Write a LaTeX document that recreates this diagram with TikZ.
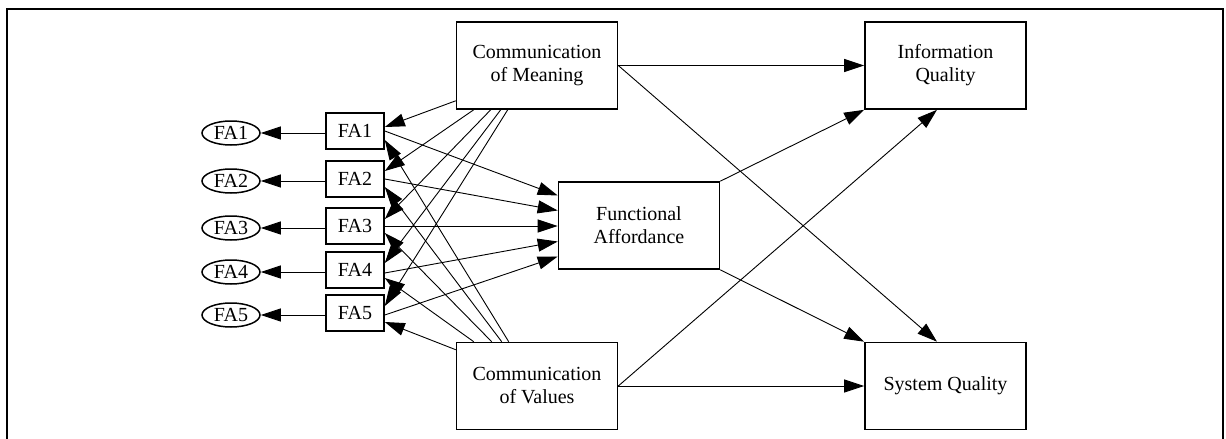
\documentclass[tikz,border=0pt]{standalone}
\usepackage{fontspec}
\setmainfont{Liberation Serif}
\usetikzlibrary{arrows.meta,shapes.geometric,calc}

\begin{document}
\begin{tikzpicture}[x=1pt,y=-1pt,
  lbl/.style={font=\fontsize{20}{23}\selectfont,align=center,inner sep=0pt},
  construct/.style={lbl,draw,line width=1.6pt,minimum width=161pt,minimum height=87pt},
  item/.style={lbl,draw,line width=1.6pt,minimum width=58pt,minimum height=36pt},
  latent/.style={lbl,draw,ellipse,line width=1.5pt,minimum width=58pt,minimum height=24pt},
  link/.style={draw,line width=0.9pt,-{Triangle[length=20pt,width=13pt]}}]

\useasboundingbox (0,0) rectangle (1226,439);

% outer frame (open at the bottom)
\draw[line width=2pt] (7,439) -- (7,9) -- (1223,9) -- (1223,439);

% indicators and their error terms
\node[latent] (e1) at (231,133) {FA1};
\node[latent] (e2) at (231,181) {FA2};
\node[latent] (e3) at (231,228) {FA3};
\node[latent] (e4) at (231,272) {FA4};
\node[latent] (e5) at (231,315) {FA5};

\node[item] (r1) at (355,131) {FA1};
\node[item] (r2) at (355,179) {FA2};
\node[item] (r3) at (355,226) {FA3};
\node[item] (r4) at (355,270) {FA4};
\node[item] (r5) at (355,313) {FA5};

% constructs
\node[construct] (com) at (537,65.5) {Communication\\of Meaning};
\node[construct] (cov) at (537,386) {Communication\\of Values};
\node[construct] (fa) at (639,225.5) {Functional\\Affordance};
\node[construct] (iq) at (945.5,65.5) {Information\\Quality};
\node[construct] (sq) at (945.5,386) {System Quality};

% indicator -> error term
\foreach \i in {1,...,5}
  \draw[link] (r\i.west |- e\i.east) -- (e\i.east);

% communication of meaning -> indicators
\draw[link] ([yshift=9pt]com.south west) -- ([yshift=4pt]r1.east);
\draw[link] ([xshift=18pt]com.south west) -- ([yshift=8pt]r2.east);
\draw[link] ([xshift=35pt]com.south west) -- ([yshift=7pt]r3.east);
\draw[link] ([xshift=45pt]com.south west) -- ([yshift=7pt]r4.east);
\draw[link] ([xshift=52pt]com.south west) -- ([yshift=7pt]r5.east);

% communication of values -> indicators
\draw[link] ([yshift=-8pt]cov.north west) -- ([yshift=-9pt]r5.east);
\draw[link] ([xshift=18pt]cov.north west) -- ([yshift=-8pt]r4.east);
\draw[link] ([xshift=36pt]cov.north west) -- ([yshift=-7pt]r3.east);
\draw[link] ([xshift=46pt]cov.north west) -- ([yshift=-8pt]r2.east);
\draw[link] ([xshift=53pt]cov.north west) -- ([yshift=-9pt]r1.east);

% indicators -> functional affordance
\draw[link] (r1.east) -- ([yshift=30pt]fa.west);
\draw[link] (r2.east) -- ([yshift=15pt]fa.west);
\draw[link] (r3.east) -- (r3.east -| fa.west);
\draw[link] ([yshift=-3pt]r4.east) -- ([yshift=-16pt]fa.west);
\draw[link] ([yshift=-2pt]r5.east) -- ([yshift=-31pt]fa.west);

% structural paths
\draw[link] (com.east) -- (iq.west);
\draw[link] (com.east) -- ([xshift=-8.5pt]sq.north);
\draw[link] (fa.north east) -- (iq.south west);
\draw[link] (fa.south east) -- (sq.north west);
\draw[link] (cov.east) -- ([xshift=-8.5pt]iq.south);
\draw[link] (cov.east) -- (sq.west);
\end{tikzpicture}
\end{document}
